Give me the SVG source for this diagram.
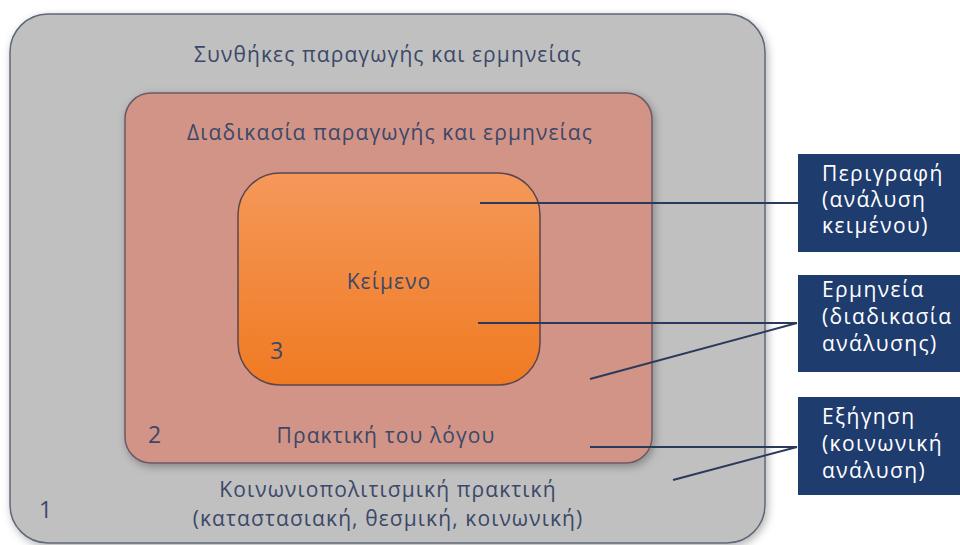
<svg xmlns="http://www.w3.org/2000/svg" width="960" height="545" viewBox="0 0 960 545">
<defs>
<linearGradient id="og" x1="0" y1="0" x2="0" y2="1">
<stop offset="0" stop-color="#f5985a"/>
<stop offset="1" stop-color="#f07a22"/>
</linearGradient>
<filter id="sh" x="-10%" y="-10%" width="120%" height="120%">
<feDropShadow dx="2" dy="3" stdDeviation="4" flood-color="#000" flood-opacity="0.3"/>
</filter>
<style>
.t{font-family:"Open Sans","Noto Sans",sans-serif;font-size:21px;letter-spacing:1.1px;fill:#3b4868;text-anchor:middle}
.n{font-family:"Open Sans","Noto Sans",sans-serif;font-size:23px;fill:#3b4868}
.b{font-family:"Open Sans","Noto Sans",sans-serif;font-size:21px;letter-spacing:1.4px;fill:#ffffff}
.bx{fill:#1f3c6e}
.c{stroke:#2a3a5c;stroke-width:2;fill:none}
</style>
</defs>
<rect width="960" height="545" fill="#ffffff"/>
<g id="social">
<rect x="10" y="14" width="755" height="529" rx="38" fill="#c0c0c0" stroke="#5f6778" stroke-width="1.5" filter="url(#sh)"/>
<text class="t" x="388" y="62">Συνθήκες παραγωγής και ερμηνείας</text>
<text class="t" x="388" y="497">Κοινωνιοπολιτισμική πρακτική</text>
<text class="t" x="388" y="526">(καταστασιακή, θεσμική, κοινωνική)</text>
<text class="n" x="39" y="518">1</text>
</g>
<g id="discourse">
<rect x="125" y="93" width="527" height="370" rx="26" fill="#d29487" stroke="#6a5a66" stroke-width="1.5" filter="url(#sh)"/>
<text class="t" x="390" y="140">Διαδικασία παραγωγής και ερμηνείας</text>
<text class="t" x="386" y="443">Πρακτική του λόγου</text>
<text class="n" x="148" y="443">2</text>
</g>
<g id="text">
<rect x="238" y="173" width="302" height="212" rx="42" fill="url(#og)" stroke="#5a4650" stroke-width="1.5"/>
<text class="t" x="389" y="289">Κείμενο</text>
<text class="n" x="270" y="359">3</text>
</g>
<g id="connectors">
<line class="c" x1="480" y1="203" x2="798" y2="203"/>
<line class="c" x1="478" y1="323" x2="797" y2="323"/>
<line class="c" x1="590" y1="379" x2="797" y2="323"/>
<line class="c" x1="590" y1="447" x2="797" y2="447"/>
<line class="c" x1="673" y1="480" x2="797" y2="447"/>
</g>
<g id="description">
<rect class="bx" x="798" y="154" width="162" height="98"/>
<text class="b" x="822" y="181">Περιγραφή</text>
<text class="b" x="822" y="207">(ανάλυση</text>
<text class="b" x="822" y="233">κειμένου)</text>
</g>
<g id="interpretation">
<rect class="bx" x="798" y="275" width="162" height="97"/>
<text class="b" x="822" y="297">Ερμηνεία</text>
<text class="b" x="822" y="324">(διαδικασία</text>
<text class="b" x="822" y="351">ανάλυσης)</text>
</g>
<g id="explanation">
<rect class="bx" x="798" y="397" width="162" height="98"/>
<text class="b" x="822" y="424">Εξήγηση</text>
<text class="b" x="822" y="451">(κοινωνική</text>
<text class="b" x="822" y="478">ανάλυση)</text>
</g>
</svg>
